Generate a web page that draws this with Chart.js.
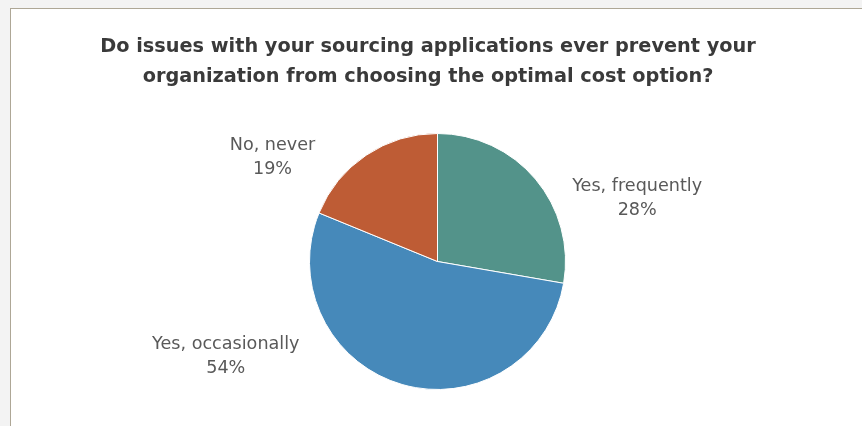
<!DOCTYPE html>
<html>
<head>
<meta charset="utf-8">
<script src="https://cdn.jsdelivr.net/npm/chart.js@4.4.1/dist/chart.umd.min.js"></script>
<style>
  html, body { margin: 0; padding: 0; background: #f3f3f3; overflow: hidden; }
  .frame {
    position: absolute; left: 10px; top: 8px;
    width: 860px; height: 430px;
    background: #fff;
    border-left: 1px solid #aea796;
    border-top: 1px solid #aea796;
  }
  canvas { display: block; }
</style>
</head>
<body>
<div class="frame">
  <canvas id="pie" width="851" height="417"></canvas>
</div>
<script>
  // 응답 항목과 비율 (시계방향, 12시 방향부터)
  const answers = ["Yes, frequently", "Yes, occasionally", "No, never"];
  const shares = [28, 54, 19];
  const sliceColors = ["#53938a", "#4689ba", "#be5c35"];

  const titleLines = [
    "Do issues with your sourcing applications ever prevent your",
    "organization from choosing the optimal cost option?",
  ];

  // 라벨 위치: 파이 중심 기준, 반지름 배수
  const labelSpots = [
    [1.56, -0.496],
    [-1.654, 0.738],
    [-1.289, -0.811],
  ];

  // 제목: 파이보다 살짝 왼쪽에 가운데 정렬
  const chartTitle = {
    id: "chartTitle",
    afterDraw(chart) {
      const ctx = chart.ctx;
      const cx = chart.width / 2 - 8.5;
      ctx.save();
      ctx.font = "bold 19.3px 'DejaVu Sans'";
      ctx.fillStyle = "#3a3a3a";
      ctx.textAlign = "center";
      ctx.textBaseline = "middle";
      titleLines.forEach((line, i) => {
        ctx.fillText(line, cx, 38 + i * 29.5);
      });
      ctx.restore();
    },
  };

  // 슬라이스 바깥쪽에 "이름 / 퍼센트" 두 줄 라벨 그리기
  const outsideLabels = {
    id: "outsideLabels",
    afterDatasetsDraw(chart) {
      const ctx = chart.ctx;
      const meta = chart.getDatasetMeta(0);
      ctx.save();
      ctx.font = "17.6px 'DejaVu Sans'";
      ctx.fillStyle = "#595959";
      ctx.textAlign = "center";
      ctx.textBaseline = "middle";
      meta.data.forEach((arc, i) => {
        const r = arc.outerRadius;
        const cx = arc.x + labelSpots[i][0] * r;
        const cy = arc.y + labelSpots[i][1] * r;
        ctx.fillText(answers[i], cx, cy - 12);
        ctx.fillText(shares[i] + "%", cx, cy + 12);
      });
      ctx.restore();
    },
  };

  new Chart(document.getElementById("pie").getContext("2d"), {
    type: "pie",
    data: {
      labels: answers,
      datasets: [
        {
          data: shares,
          backgroundColor: sliceColors,
          borderColor: "#ffffff",
          borderWidth: 1,
        },
      ],
    },
    options: {
      responsive: false,
      animation: false,
      layout: { padding: { top: 124, left: 2, bottom: 36 } },
      plugins: {
        legend: { display: false },
        tooltip: { enabled: false },
        title: { display: false },
      },
    },
    plugins: [outsideLabels, chartTitle],
  });
</script>
</body>
</html>
